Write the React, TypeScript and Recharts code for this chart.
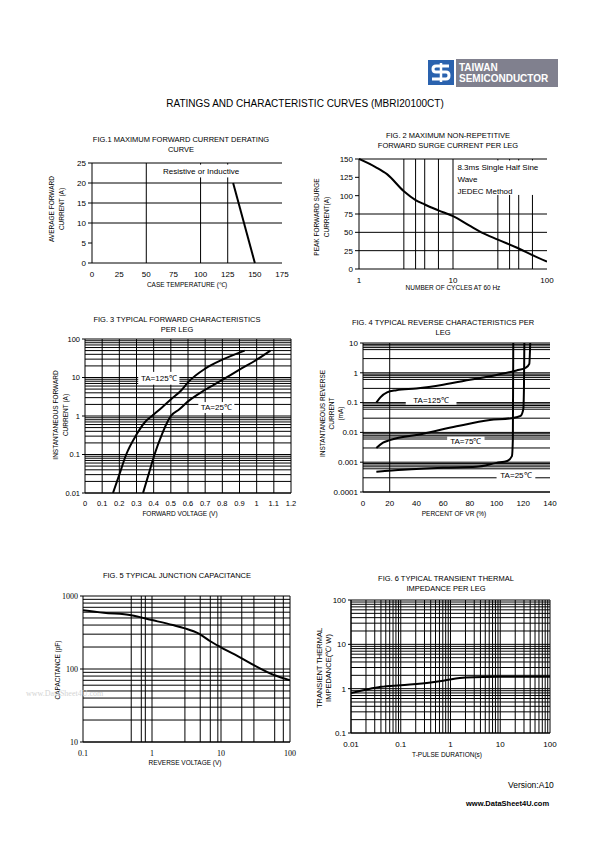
import React from "react";
import {
  LineChart,
  Line,
  XAxis,
  YAxis,
  ReferenceLine,
} from "recharts";

// ---- data ----
const F1_X_TICKS = [0, 25, 50, 75, 100, 125, 150, 175];
const F1_Y_TICKS = [0, 5, 10, 15, 20, 25];
const F1_CURVE = [
  { t: 130, i: 20 },
  { t: 150, i: 0 },
];

const F2_X_TICKS = [1, 10, 100];
const F2_Y_TICKS = [0, 25, 50, 75, 100, 125, 150];
const F2_CURVE = [
  { n: 1, a: 150 },
  { n: 1.5, a: 139 },
  { n: 2, a: 129 },
  { n: 3, a: 106 },
  { n: 4, a: 94 },
  { n: 5, a: 88 },
  { n: 7, a: 80 },
  { n: 10, a: 72 },
  { n: 15, a: 59 },
  { n: 20, a: 50 },
  { n: 30, a: 40 },
  { n: 50, a: 28 },
  { n: 70, a: 19 },
  { n: 100, a: 10 },
];

const F3_X_TICKS = [0, 0.1, 0.2, 0.3, 0.4, 0.5, 0.6, 0.7, 0.8, 0.9, 1, 1.1, 1.2];
const F3_Y_TICKS = [0.01, 0.1, 1, 10, 100];
const F3_TA125 = [
  { v: 0.163, i: 0.01 },
  { v: 0.2, i: 0.03 },
  { v: 0.24, i: 0.1 },
  { v: 0.3, i: 0.33 },
  { v: 0.35, i: 0.7 },
  { v: 0.39, i: 1.0 },
  { v: 0.45, i: 1.7 },
  { v: 0.5, i: 2.7 },
  { v: 0.56, i: 4.6 },
  { v: 0.6, i: 7.5 },
  { v: 0.7, i: 17 },
  { v: 0.8, i: 29 },
  { v: 0.93, i: 50 },
];
const F3_TA25 = [
  { v: 0.338, i: 0.01 },
  { v: 0.37, i: 0.03 },
  { v: 0.405, i: 0.1 },
  { v: 0.45, i: 0.35 },
  { v: 0.48, i: 0.7 },
  { v: 0.5, i: 1.0 },
  { v: 0.55, i: 1.5 },
  { v: 0.6, i: 2.4 },
  { v: 0.7, i: 4.8 },
  { v: 0.8, i: 8.7 },
  { v: 0.9, i: 16 },
  { v: 1.0, i: 29 },
  { v: 1.08, i: 50 },
];

const F4_X_TICKS = [0, 20, 40, 60, 80, 100, 120, 140];
const F4_Y_TICKS = [0.0001, 0.001, 0.01, 0.1, 1, 10];
const F4_TA125 = [
  { p: 10, i: 0.1 },
  { p: 13, i: 0.15 },
  { p: 18, i: 0.22 },
  { p: 25, i: 0.26 },
  { p: 40, i: 0.3 },
  { p: 60, i: 0.4 },
  { p: 80, i: 0.58 },
  { p: 100, i: 0.85 },
  { p: 115, i: 1.2 },
  { p: 122, i: 1.5 },
  { p: 124.5, i: 2 },
  { p: 125.2, i: 10 },
];
const F4_TA75 = [
  { p: 10, i: 0.003 },
  { p: 15, i: 0.0045 },
  { p: 20, i: 0.0055 },
  { p: 45, i: 0.009 },
  { p: 70, i: 0.016 },
  { p: 95, i: 0.026 },
  { p: 111, i: 0.03 },
  { p: 118, i: 0.036 },
  { p: 120, i: 0.06 },
  { p: 120.5, i: 0.3 },
  { p: 120.8, i: 10 },
];
const F4_TA25 = [
  { p: 10, i: 0.00048 },
  { p: 30, i: 0.00056 },
  { p: 60, i: 0.00065 },
  { p: 85, i: 0.0007 },
  { p: 100, i: 0.00095 },
  { p: 108, i: 0.0011 },
  { p: 111.5, i: 0.0016 },
  { p: 112.2, i: 0.006 },
  { p: 112.5, i: 10 },
];

const F5_X_TICKS = [0.1, 1, 10, 100];
const F5_Y_TICKS = [10, 100, 1000];
const F5_X_GRID = [0.5, 0.7, 0.8, 1, 3, 5, 7, 9, 10, 20, 30, 60, 80, 100];
const F5_CURVE = [
  { v: 0.1, c: 640 },
  { v: 0.2, c: 590 },
  { v: 0.5, c: 545 },
  { v: 1, c: 468 },
  { v: 2, c: 400 },
  { v: 3, c: 360 },
  { v: 4.7, c: 307 },
  { v: 7, c: 240 },
  { v: 10, c: 198 },
  { v: 20, c: 140 },
  { v: 30, c: 113 },
  { v: 60, c: 82 },
  { v: 100, c: 70 },
];

const F6_X_TICKS = [0.01, 0.1, 1, 10, 100];
const F6_Y_TICKS = [0.1, 1, 10, 100];
const F6_CURVE = [
  { t: 0.01, z: 0.8 },
  { t: 0.02, z: 0.95 },
  { t: 0.04, z: 1.1 },
  { t: 0.1, z: 1.2 },
  { t: 0.4, z: 1.38 },
  { t: 0.8, z: 1.55 },
  { t: 2, z: 1.78 },
  { t: 10, z: 1.86 },
  { t: 100, z: 1.86 },
];

// ---- helpers ----
const sans = "'Liberation Sans', Arial, sans-serif";
const serif = "'Liberation Serif', 'Times New Roman', serif";

const logGrid = (lo: number, hi: number, mults: number[]) => {
  const out: number[] = [];
  for (let d = lo; d < hi * 0.999; d *= 10) {
    mults.forEach((m) => out.push(+(d * m).toPrecision(6)));
  }
  out.push(hi);
  return out;
};
const STD = [1, 2, 3, 4, 5, 6, 7, 8, 9];
const XH = 16;

const box = (x0: number, x1: number, y0: number, y1: number, yw: number) => ({
  style: { position: "absolute" as const, left: x0 - yw, top: y0 - 6 },
  width: x1 - x0 + yw + 10,
  height: y1 - y0 + 6 + XH,
  margin: { top: 6, right: 10, left: 0, bottom: 0 },
});

const tickStyle = { fontSize: 8, fill: "#000", fontFamily: sans };
const smallTick = { fontSize: 7.5, fill: "#000", fontFamily: sans };
const serifTick = { fontSize: 8, fill: "#000", fontFamily: serif };

const Txt = ({ x, y, w, children, size = 7.5, align = "center", bold = false, color = "#000", font = sans }: any) => (
  <div
    style={{
      position: "absolute",
      left: align === "center" ? x - w / 2 : x,
      top: y,
      width: w,
      textAlign: align,
      fontSize: size,
      lineHeight: `${size + 3}px`,
      fontFamily: font,
      fontWeight: bold ? 700 : 400,
      color,
      whiteSpace: "nowrap",
    }}
  >
    {children}
  </div>
);

const VText = ({ cx, cy, lines, size = 6.5, gap = 10 }: any) => (
  <div
    style={{
      position: "absolute",
      left: cx - 100,
      top: cy - (lines.length * gap) / 2,
      width: 200,
      height: lines.length * gap,
      transform: "rotate(-90deg)",
      transformOrigin: "50% 50%",
      textAlign: "center",
      fontSize: size,
      lineHeight: `${gap}px`,
      fontFamily: sans,
      color: "#000",
    }}
  >
    {lines.map((l: string, i: number) => (
      <div key={i}>{l}</div>
    ))}
  </div>
);

// white label box drawn as a reference-line shape so it sits above the grid lines
const labelBox = (lines: string[], align: "middle" | "start" = "middle", size = 8) => (props: any) => {
  const x = Math.min(props.x1, props.x2);
  const y = Math.min(props.y1, props.y2);
  const w = Math.abs(props.x2 - props.x1);
  const h = Math.abs(props.y2 - props.y1);
  const tx = align === "middle" ? x + w / 2 : x + 2;
  const lh = 12;
  const y0 = align === "middle" ? y + h / 2 + size * 0.35 : y + 10;
  return (
    <g>
      <rect x={x} y={y} width={w} height={h} fill="#fff" />
      <text x={tx} y={y0} textAnchor={align} fontSize={size} fontFamily={sans} fill="#000">
        {lines.map((l, i) => (
          <tspan key={i} x={tx} dy={i === 0 ? 0 : lh}>
            {l}
          </tspan>
        ))}
      </text>
    </g>
  );
};

const G = { stroke: "#000", strokeWidth: 1 };
const CURVE = { stroke: "#000", strokeWidth: 2, dot: false, isAnimationActive: false };

export default function App() {
  const b1 = box(92, 282, 163, 263, 30);
  const b2 = box(359, 547, 159, 269, 30);
  const b3 = box(85, 291, 339, 493, 30);
  const b4 = box(363, 550, 343, 492, 40);
  const b5 = box(83, 290, 596, 742, 30);
  const b6 = box(351, 550, 600, 733, 30);

  const f3Grid = logGrid(0.01, 100, STD);
  const f4Grid = logGrid(0.0001, 10, [1, 3, 6, 7, 8, 9]);
  const f5Grid = logGrid(10, 1000, STD);
  const f6GridY = logGrid(0.1, 100, STD);
  const f6GridX = logGrid(0.01, 100, STD);

  return (
    <div
      style={{
        position: "absolute",
        left: 0,
        top: 0,
        width: 595,
        height: 842,
        background: "#fff",
        fontFamily: sans,
      }}
    >
      {/* logo */}
      <svg style={{ position: "absolute", left: 428, top: 60 }} width={26} height={25}>
        <rect x={0} y={0} width={26} height={25} fill="#2a62ae" />
        <path d="M21 6 H8 Q5 6 5 9 Q5 12 8 12 H18 Q21 12 21 15.5 Q21 19 18 19 H4" stroke="#fff" strokeWidth={3} fill="none" />
        <path d="M13 3 V22" stroke="#fff" strokeWidth={2.5} />
      </svg>
      <div style={{ position: "absolute", left: 456, top: 59, width: 102, height: 28, background: "#80808e" }} />
      <Txt x={459} y={61} w={100} size={10} align="left" bold color="#fff">
        TAIWAN
      </Txt>
      <Txt x={459} y={72} w={100} size={10} align="left" bold color="#fff">
        SEMICONDUCTOR
      </Txt>

      <Txt x={305} y={97} w={400} size={10}>
        RATINGS AND CHARACTERISTIC CURVES (MBRI20100CT)
      </Txt>

      {/* FIG 1 */}
      <Txt x={181} y={135} w={260}>FIG.1 MAXIMUM FORWARD CURRENT DERATING</Txt>
      <Txt x={181} y={145} w={260}>CURVE</Txt>
      <VText cx={57} cy={209} lines={["AVERAGE FORWARD", "CURRENT (A)"]} />
      <Txt x={187} y={280} w={200} size={6.5}>CASE TEMPERATURE (℃)</Txt>
      <LineChart {...b1}>
        <XAxis dataKey="t" type="number" height={XH} domain={[0, 175]} ticks={F1_X_TICKS} tick={tickStyle} tickLine={false} stroke="#000" interval={0} />
        <YAxis dataKey="i" type="number" domain={[0, 25]} ticks={F1_Y_TICKS} tick={tickStyle} tickSize={4} width={30} stroke="#000" interval={0} />
        {[10, 15, 20, 25].map((v) => (
          <ReferenceLine key={"h" + v} y={v} {...G} />
        ))}
        <ReferenceLine x={50} {...G} />
        <ReferenceLine x={100} {...G} />
        <ReferenceLine x={125} {...G} />
        <ReferenceLine segment={[{ x: 62, y: 21.4 }, { x: 139, y: 24.6 }]} shape={labelBox(["Resistive or Inductive"])} />
        <Line data={F1_CURVE} dataKey="i" type="linear" {...CURVE} />
      </LineChart>

      {/* FIG 2 */}
      <Txt x={448} y={131} w={260}>FIG. 2 MAXIMUM NON-REPETITIVE</Txt>
      <Txt x={448} y={141} w={260}>FORWARD SURGE CURRENT PER LEG</Txt>
      <VText cx={322} cy={217} lines={["PEAK FORWARD SURGE", "CURRENT(A)"]} />
      <Txt x={453} y={283} w={200} size={6.5}>NUMBER OF CYCLES AT 60 Hz</Txt>
      <LineChart {...b2}>
        <XAxis dataKey="n" type="number" height={XH} scale="log" domain={[1, 100]} allowDataOverflow ticks={F2_X_TICKS} tick={tickStyle} tickLine={false} stroke="#000" interval={0} />
        <YAxis dataKey="a" type="number" domain={[0, 150]} ticks={F2_Y_TICKS} tick={tickStyle} tickSize={4} width={30} stroke="#000" interval={0} />
        {[25, 50, 75, 150].map((v) => (
          <ReferenceLine key={"h" + v} y={v} {...G} />
        ))}
        {[3, 4, 5, 7, 10, 30, 40, 50, 70].map((v) => (
          <ReferenceLine key={"v" + v} x={v} {...G} />
        ))}
        <ReferenceLine segment={[{ x: 10.6, y: 101 }, { x: 99, y: 148 }]} shape={labelBox(["8.3ms Single Half Sine", "Wave", "JEDEC Method"], "start")} />
        <Line data={F2_CURVE} dataKey="a" type="monotone" {...CURVE} />
      </LineChart>

      {/* FIG 3 */}
      <Txt x={177} y={315} w={260}>FIG. 3 TYPICAL FORWARD CHARACTERISTICS</Txt>
      <Txt x={177} y={325} w={260}>PER LEG</Txt>
      <VText cx={61} cy={415} lines={["INSTANTANEOUS FORWARD", "CURRENT (A)"]} />
      <Txt x={180} y={509} w={200} size={6.5}>FORWARD VOLTAGE (V)</Txt>
      <LineChart {...b3}>
        <XAxis dataKey="v" type="number" height={XH} domain={[0, 1.2]} ticks={F3_X_TICKS} tick={smallTick} tickLine={false} stroke="#000" interval={0} />
        <YAxis dataKey="i" type="number" scale="log" domain={[0.01, 100]} allowDataOverflow ticks={F3_Y_TICKS} tick={smallTick} tickSize={3} width={30} stroke="#000" interval={0} />
        {f3Grid.map((v) => (
          <ReferenceLine key={"h" + v} y={v} {...G} />
        ))}
        {F3_X_TICKS.slice(1).map((v) => (
          <ReferenceLine key={"v" + v} x={v} {...G} />
        ))}
        <ReferenceLine segment={[{ x: 0.31, y: 6.5 }, { x: 0.55, y: 14 }]} shape={labelBox(["TA=125℃"])} />
        <ReferenceLine segment={[{ x: 0.66, y: 1.2 }, { x: 0.87, y: 2.3 }]} shape={labelBox(["TA=25℃"])} />
        <Line data={F3_TA125} dataKey="i" type="monotone" {...CURVE} />
        <Line data={F3_TA25} dataKey="i" type="monotone" {...CURVE} />
      </LineChart>

      {/* FIG 4 */}
      <Txt x={443} y={318} w={260}>FIG. 4 TYPICAL REVERSE CHARACTERISTICS PER</Txt>
      <Txt x={443} y={328} w={260}>LEG</Txt>
      <VText cx={331} cy={413} lines={["INSTANTANEOUS REVERSE", "CURRENT", "(mA)"]} gap={9} />
      <Txt x={454} y={509} w={200} size={6.5}>PERCENT OF VR (%)</Txt>
      <LineChart {...b4}>
        <XAxis dataKey="p" type="number" height={XH} domain={[0, 140]} ticks={F4_X_TICKS} tick={tickStyle} tickLine={false} stroke="#000" interval={0} />
        <YAxis dataKey="i" type="number" scale="log" domain={[0.0001, 10]} allowDataOverflow ticks={F4_Y_TICKS} tick={tickStyle} tickSize={3} width={40} stroke="#000" interval={0} />
        {f4Grid.map((v) => (
          <ReferenceLine key={"h" + v} y={v} {...G} />
        ))}
        <ReferenceLine x={20} {...G} />
        <ReferenceLine segment={[{ x: 32, y: 0.085 }, { x: 70, y: 0.165 }]} shape={labelBox(["TA=125℃"])} />
        <ReferenceLine segment={[{ x: 63, y: 0.0036 }, { x: 91, y: 0.0072 }]} shape={labelBox(["TA=75℃"])} />
        <ReferenceLine segment={[{ x: 100, y: 0.00026 }, { x: 129, y: 0.00052 }]} shape={labelBox(["TA=25℃"])} />
        <Line data={F4_TA125} dataKey="i" type="monotone" {...CURVE} />
        <Line data={F4_TA75} dataKey="i" type="monotone" {...CURVE} />
        <Line data={F4_TA25} dataKey="i" type="monotone" {...CURVE} />
      </LineChart>

      {/* FIG 5 */}
      <Txt x={177} y={571} w={260}>FIG. 5 TYPICAL JUNCTION CAPACITANCE</Txt>
      <VText cx={58} cy={670} lines={["CAPACITANCE (pF)"]} />
      <Txt x={185} y={758} w={200} size={6.5}>REVERSE VOLTAGE (V)</Txt>
      <LineChart {...b5}>
        <XAxis dataKey="v" type="number" height={XH} scale="log" domain={[0.1, 100]} allowDataOverflow ticks={F5_X_TICKS} tick={serifTick} tickLine={false} stroke="#000" interval={0} />
        <YAxis dataKey="c" type="number" scale="log" domain={[10, 1000]} allowDataOverflow ticks={F5_Y_TICKS} tick={serifTick} tickSize={3} width={30} stroke="#000" interval={0} />
        {f5Grid.map((v) => (
          <ReferenceLine key={"h" + v} y={v} {...G} />
        ))}
        {F5_X_GRID.map((v) => (
          <ReferenceLine key={"v" + v} x={v} {...G} />
        ))}
        <Line data={F5_CURVE} dataKey="c" type="monotone" {...CURVE} />
      </LineChart>
      <Txt x={26} y={688} w={120} size={8} align="left" color="#d4d4d4" font={serif}>
        www.DataSheet4U.com
      </Txt>

      {/* FIG 6 */}
      <Txt x={446} y={574} w={260}>FIG. 6 TYPICAL TRANSIENT THERMAL</Txt>
      <Txt x={446} y={584} w={260}>IMPEDANCE PER LEG</Txt>
      <VText cx={324} cy={668} lines={["TRANSIENT THERMAL", "IMPEDANCE(℃/ W)"]} size={7.5} gap={9} />
      <Txt x={447} y={750} w={200} size={6.5}>T-PULSE DURATION(s)</Txt>
      <LineChart {...b6}>
        <XAxis dataKey="t" type="number" height={XH} scale="log" domain={[0.01, 100]} allowDataOverflow ticks={F6_X_TICKS} tick={tickStyle} tickLine={false} stroke="#000" interval={0} />
        <YAxis dataKey="z" type="number" scale="log" domain={[0.1, 100]} allowDataOverflow ticks={F6_Y_TICKS} tick={tickStyle} tickSize={3} width={30} stroke="#000" interval={0} />
        {f6GridY.map((v) => (
          <ReferenceLine key={"h" + v} y={v} {...G} />
        ))}
        {f6GridX.map((v) => (
          <ReferenceLine key={"v" + v} x={v} {...G} />
        ))}
        <Line data={F6_CURVE} dataKey="z" type="monotone" {...CURVE} />
      </LineChart>

      <Txt x={508} y={780} w={80} size={8.5} align="left">Version:A10</Txt>
      <Txt x={466} y={799} w={100} size={7.5} align="left" bold>www.DataSheet4U.com</Txt>
    </div>
  );
}
